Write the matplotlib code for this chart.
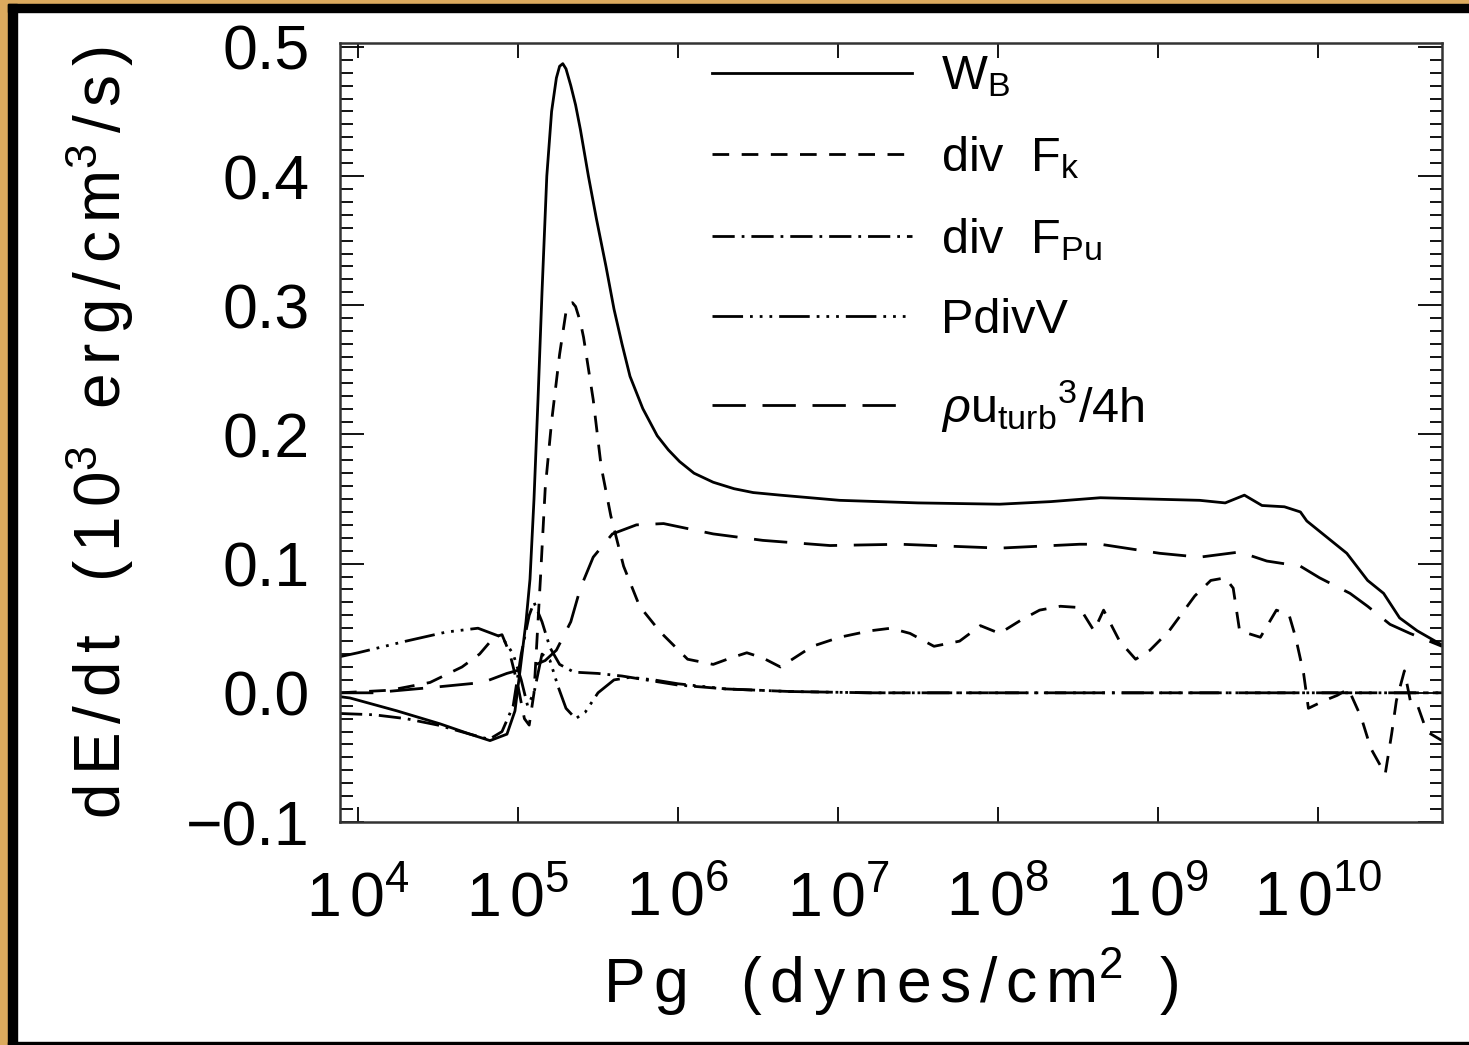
import numpy as np
import matplotlib
matplotlib.use("Agg")
import matplotlib.pyplot as plt
from matplotlib.patches import Rectangle
from matplotlib.ticker import FixedLocator, MultipleLocator, FuncFormatter

plt.rcParams['font.family'] = ['Liberation Sans', 'DejaVu Sans']
plt.rcParams['mathtext.fontset'] = 'custom'
plt.rcParams['mathtext.rm'] = 'Liberation Sans'
plt.rcParams['mathtext.it'] = 'Liberation Sans:italic'
plt.rcParams['mathtext.bf'] = 'Liberation Sans:bold'
plt.rcParams['lines.scale_dashes'] = False

# values, x given as log10(Pg)
wb_logp = [3.8875, 3.95, 4.244, 4.5125, 4.70, 4.825, 4.931, 4.981, 5.0125, 5.05, 5.075, 5.10,
           5.125, 5.15, 5.18, 5.21, 5.24, 5.26, 5.28, 5.30, 5.33, 5.36, 5.39, 5.44, 5.49, 5.55,
           5.6, 5.65, 5.70, 5.78, 5.87, 5.94, 6.01, 6.1, 6.22, 6.35, 6.47, 6.64, 7.01, 7.5,
           8.01, 8.33, 8.64, 8.95, 9.26, 9.42, 9.54, 9.65, 9.79, 9.89, 9.93, 10.06, 10.18,
           10.31, 10.41, 10.51, 10.62, 10.775]
wb_val = [-0.003, -0.004, -0.014, -0.024, -0.032, -0.037, -0.032, -0.014, 0.017, 0.055, 0.088, 0.15,
          0.227, 0.31, 0.40, 0.45, 0.476, 0.485, 0.487, 0.483, 0.47, 0.455, 0.436, 0.40, 0.367, 0.33,
          0.297, 0.27, 0.245, 0.22, 0.199, 0.188, 0.179, 0.17, 0.163, 0.158, 0.155, 0.153, 0.149, 0.147,
          0.146, 0.148, 0.151, 0.150, 0.149, 0.147, 0.153, 0.145, 0.144, 0.140, 0.133, 0.12, 0.108,
          0.087, 0.077, 0.058, 0.048, 0.037]

fk_logp = [3.8875, 4.2, 4.45, 4.65, 4.76, 4.85, 4.9, 4.95, 5.0, 5.04, 5.07, 5.1, 5.14, 5.17,
           5.21, 5.26, 5.30, 5.32, 5.34, 5.36, 5.39, 5.41, 5.47, 5.52, 5.58, 5.66, 5.76, 5.89,
           6.06, 6.22, 6.33, 6.43, 6.53, 6.64, 6.74, 6.84, 7.01, 7.2, 7.33, 7.45, 7.6, 7.76,
           7.89, 8.01, 8.14, 8.26, 8.39, 8.51, 8.6, 8.66, 8.76, 8.86, 8.95, 9.07, 9.23, 9.33,
           9.42, 9.47, 9.51, 9.64, 9.74, 9.82, 9.86, 9.91, 9.94, 10.04, 10.12, 10.19, 10.27,
           10.33, 10.42, 10.46, 10.49, 10.54, 10.58, 10.62, 10.68, 10.775]
fk_val = [0.0, 0.002, 0.008, 0.02, 0.03, 0.043, 0.045, 0.03, 0.005, -0.02, -0.025, 0.0, 0.088, 0.158,
          0.21, 0.262, 0.295, 0.300, 0.302, 0.299, 0.287, 0.275, 0.227, 0.175, 0.137, 0.098, 0.067,
          0.047, 0.026, 0.022, 0.027, 0.031, 0.027, 0.02, 0.028, 0.036, 0.043, 0.048, 0.05, 0.046,
          0.036, 0.04, 0.052, 0.046, 0.056, 0.064, 0.067, 0.066, 0.048, 0.064, 0.04, 0.026, 0.033,
          0.048, 0.075, 0.087, 0.089, 0.081, 0.048, 0.043, 0.064, 0.06, 0.043, 0.015, -0.012, -0.006,
          -0.002, 0.003, -0.019, -0.043, -0.063, -0.032, -0.006, 0.017, -0.008, -0.009, -0.03, -0.037]

fpu_logp = [3.8875, 4.1, 4.3, 4.5, 4.7, 4.82, 4.9, 4.97, 5.02, 5.07, 5.1, 5.15, 5.2, 5.26,
            5.35, 5.5, 5.65, 5.8, 6.0, 6.3, 6.7, 7.2, 10.775]
fpu_val = [-0.016, -0.017, -0.02, -0.025, -0.032, -0.036, -0.03, -0.01, 0.03, 0.06, 0.07, 0.055,
           0.035, 0.022, 0.016, 0.015, 0.013, 0.01, 0.006, 0.003, 0.001, 0.0, 0.0]

pdv_logp = [3.8875, 4.0, 4.3, 4.55, 4.75, 4.9, 4.97, 5.02, 5.06, 5.1, 5.15, 5.2, 5.25, 5.3,
            5.36, 5.42, 5.5, 5.6, 5.7, 5.85, 6.0, 6.3, 6.7, 7.2, 10.775]
pdv_val = [0.028, 0.031, 0.04, 0.047, 0.05, 0.043, 0.03, 0.01, -0.01, 0.0, 0.03, 0.025, 0.005,
           -0.012, -0.02, -0.015, 0.0, 0.01, 0.012, 0.01, 0.007, 0.003, 0.001, 0.0, 0.0]

turb_logp = [3.8875, 4.09, 4.45, 4.78, 4.93, 5.075, 5.17, 5.24, 5.33, 5.39, 5.47, 5.59, 5.74,
             5.91, 6.22, 6.53, 6.95, 7.39, 8.01, 8.51, 8.64, 9.01, 9.26, 9.51, 9.68, 9.89,
             10.01, 10.2, 10.31, 10.45, 10.575, 10.775]
turb_val = [0.0, 0.0, 0.004, 0.008, 0.015, 0.02, 0.025, 0.033, 0.055, 0.081, 0.105, 0.123, 0.13,
            0.131, 0.123, 0.118, 0.114, 0.115, 0.112, 0.115, 0.115, 0.108, 0.105, 0.109, 0.102, 0.098,
            0.089, 0.077, 0.067, 0.053, 0.046, 0.036]

labels = [r'W$_\mathregular{B}$', r'div  F$_\mathregular{k}$', r'div  F$_\mathregular{Pu}$',
          'PdivV', r'$\rho$u$_\mathregular{turb}$$^\mathregular{3}$/4h']
decades = [4, 5, 6, 7, 8, 9, 10]
xlabel = r'$\mathregular{P\,g\ \ \ (\,d\,y\,n\,e\,s\,/\,c\,m^{2}\ \ )}$'
ylabel = r'$\mathregular{d\,E\,/\,d\,t\ \ \ (\,1\,0^{3}\ \ e\,r\,g\,/\,c\,m^{3}\,/\,s\,)}$'

fig = plt.figure(figsize=(14.69, 10.45), dpi=100)
fig.patch.set_facecolor('white')
W, H = 1469.0, 1045.0
# frame around the picture
fig.patches.append(Rectangle((0, 0), 8 / W, 1, transform=fig.transFigure, color='#dcaa5e', zorder=0))
fig.patches.append(Rectangle((0, 1 - 4 / H), 1, 4 / H, transform=fig.transFigure, color='#dcaa5e', zorder=0))
fig.patches.append(Rectangle((8 / W, 0), 9 / W, 1 - 4 / H, transform=fig.transFigure, color='black', zorder=0))
fig.patches.append(Rectangle((8 / W, 1 - 12 / H), 1, 8 / H, transform=fig.transFigure, color='black', zorder=0))
fig.patches.append(Rectangle((8 / W, 0), 1, 3 / H, transform=fig.transFigure, color='black', zorder=0))

ax = fig.add_axes([340 / W, 223 / H, 1102 / W, 779 / H])

lw = 2.0
ax.plot(10.0 ** np.array(wb_logp), wb_val, color='black', lw=lw, label=labels[0])
ax.plot(10.0 ** np.array(fk_logp), fk_val, color='black', lw=lw, dashes=(12, 9), label=labels[1])
ax.plot(10.0 ** np.array(fpu_logp), fpu_val, color='black', lw=lw, dashes=(16, 5, 2, 5), label=labels[2])
ax.plot(10.0 ** np.array(pdv_logp), pdv_val, color='black', lw=lw,
        dashes=(22, 5, 2, 5, 2, 5, 2, 5), label=labels[3])
ax.plot(10.0 ** np.array(turb_logp), turb_val, color='black', lw=lw, dashes=(24, 12), label=labels[4])

ax.set_xscale('log')
ax.set_xlim(10 ** 3.8875, 10 ** 10.775)
ax.set_ylim(-0.1, 0.503)

ax.xaxis.set_major_locator(FixedLocator([10.0 ** d for d in decades]))
ax.xaxis.set_minor_locator(FixedLocator([]))
ax.xaxis.set_major_formatter(FuncFormatter(lambda v, p: r'$\mathregular{1\,0^{%d}}$' % round(np.log10(v))))
ax.yaxis.set_major_locator(MultipleLocator(0.1))
ax.yaxis.set_minor_locator(MultipleLocator(0.01))
ax.yaxis.set_major_formatter(FuncFormatter(lambda v, p: ('%.1f' % v).replace('-', '\u2212')))

ax.tick_params(axis='x', which='major', direction='in', top=True, length=11, width=1.3, pad=34,
               labelsize=45)
ax.tick_params(axis='y', which='major', direction='in', right=True, length=17, width=1.3, pad=22,
               labelsize=45)
ax.tick_params(axis='y', which='minor', direction='in', right=True, length=9, width=1.3)
for s in ax.spines.values():
    s.set_linewidth(1.8)
    s.set_color('#333333')

ax.set_xlabel(xlabel, fontsize=45, labelpad=13)
ax.set_ylabel(ylabel, fontsize=46, labelpad=36)

ax.legend(loc='upper left', bbox_to_anchor=(0.338, 0.985), frameon=False, fontsize=35,
          handlelength=4.1, handletextpad=0.6, labelspacing=0.72, borderpad=0, borderaxespad=0)

fig.savefig('out.png', dpi=100, facecolor=fig.get_facecolor())
